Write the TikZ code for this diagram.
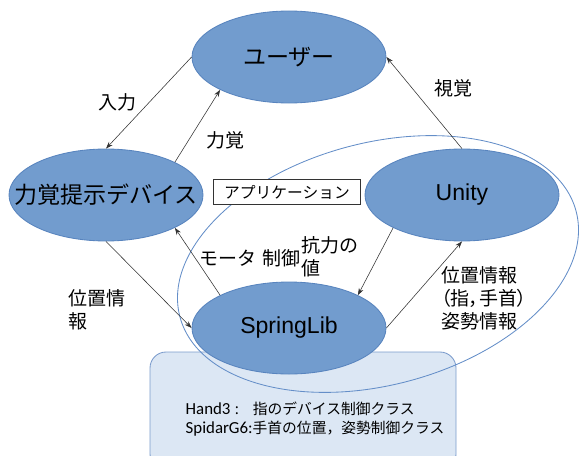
\documentclass[tikz,border=0pt]{standalone}
\usepackage{fontspec}
\setmainfont{Noto Sans CJK JP}
\newfontfamily\latinfont{Liberation Sans}
\newfontfamily\classfont{Carlito}
\newfontfamily\paltfont[RawFeature=+palt]{Noto Sans CJK JP}
\usepackage{tikz}
\usetikzlibrary{shapes,arrows.meta,positioning,calc}

\definecolor{actorfill}{RGB}{114,156,206}
\definecolor{actoredge}{RGB}{88,132,190}
\definecolor{classfill}{RGB}{220,231,244}
\definecolor{classedge}{RGB}{122,155,204}
\definecolor{scopeline}{RGB}{100,142,200}

\begin{document}
\begin{tikzpicture}[
        node distance=1cm, on grid,
        actorfont/.style={font=\fontsize{16.4}{20}\selectfont},
        actor/.style={ellipse, draw=actoredge, fill=actorfill, line width=0.6pt, minimum width=4.85cm, minimum height=2.3cm, label={[actorfont]center:#1}},
        info/.style={font=\fontsize{13.5}{16.4}\selectfont, align=left, inner sep=0pt},
        arrow/.style={-{Stealth[length=5pt,width=3.5pt]}, line width=0.4pt, black!80}
    ]
        \useasboundingbox (0,0) rectangle (14.475,-11.375);
        \clip (0,0) rectangle (14.475,-11.375);

        % User on top
        \node[actor=ユーザー] (user) at (7.225,-1.425) {};

        % Class box and application scope (behind the rest)
        \node[rectangle, draw=classedge, fill=classfill, line width=0.6pt, rounded corners=0.4cm, minimum width=7.65cm, minimum height=2.95cm, below right=8.85cm and 0.35cm of user] (classbox) {};
        \node[ellipse, draw=scopeline, line width=0.6pt, rotate=15, minimum width=10.25cm, minimum height=6.05cm, below right=5.175cm and 2.225cm of user] (appscope) {};
        \node[rectangle, draw=black!80, fill=white, line width=0.5pt, minimum width=3.675cm, minimum height=0.625cm, font=\fontsize{11.2}{13}\selectfont, below left=3.375cm and 0.05cm of user] (appbox) {アプリケーション};

        % Device, Unity, SpringLib
        \node[actor=力覚提示デバイス, below left=3.45cm and 4.575cm of user] (device) {};
        \node[actor={\latinfont Unity}, below right=3.45cm and 4.325cm of user] (unity) {};
        \node[actor={\latinfont SpringLib}, below=6.775cm of user] (springlib) {};

        % Class list
        \node[font=\fontsize{10.5}{13.5}\selectfont, align=left, below right=0.2cm and 0.3cm of classbox] (classtext) {{\classfont\fontsize{12}{13.5}\selectfont Hand3}\hspace{3pt}:\hspace{10pt}指のデバイス制御クラス\\{\classfont\fontsize{12}{13.5}\selectfont SpidarG6:}手首の位置，姿勢制御クラス};

        % Arrows
        \draw[arrow] (user.west) -- (device.north);
        \draw[arrow] (device.north east) -- (user.south west);
        \draw[arrow] (unity.north) -- (user.east);
        \draw[arrow] (springlib.north west) -- (device.south east);
        \draw[arrow] (device.south) -- (springlib.west);
        \draw[arrow] (unity.south west) -- (springlib.north east);
        \draw[arrow] (springlib.east) -- (unity.south);

        % Labels
        \node[info, below left=1.125cm and 4.3cm of user] (input) {入力};
        \node[info, below left=2.075cm and 1.6cm of user] (haptic) {力覚};
        \node[info, below right=0.775cm and 4.1cm of user] (visual) {視覚};
        \node[info, above left=1.75cm and 0.975cm of springlib] (motor) {モータ\hspace{4pt}制御};
        \node[info, above right=1.775cm and 1.025cm of springlib] (force) {抗力の\\値};
        \node[info, above left=0.45cm and 4.8cm of springlib] (position) {位置情\\報};
        \node[info, above right=0.75cm and 4.875cm of springlib] (pose) {位置情報\\{\paltfont （指，手首）}\\姿勢情報};
    \end{tikzpicture}
\end{document}
